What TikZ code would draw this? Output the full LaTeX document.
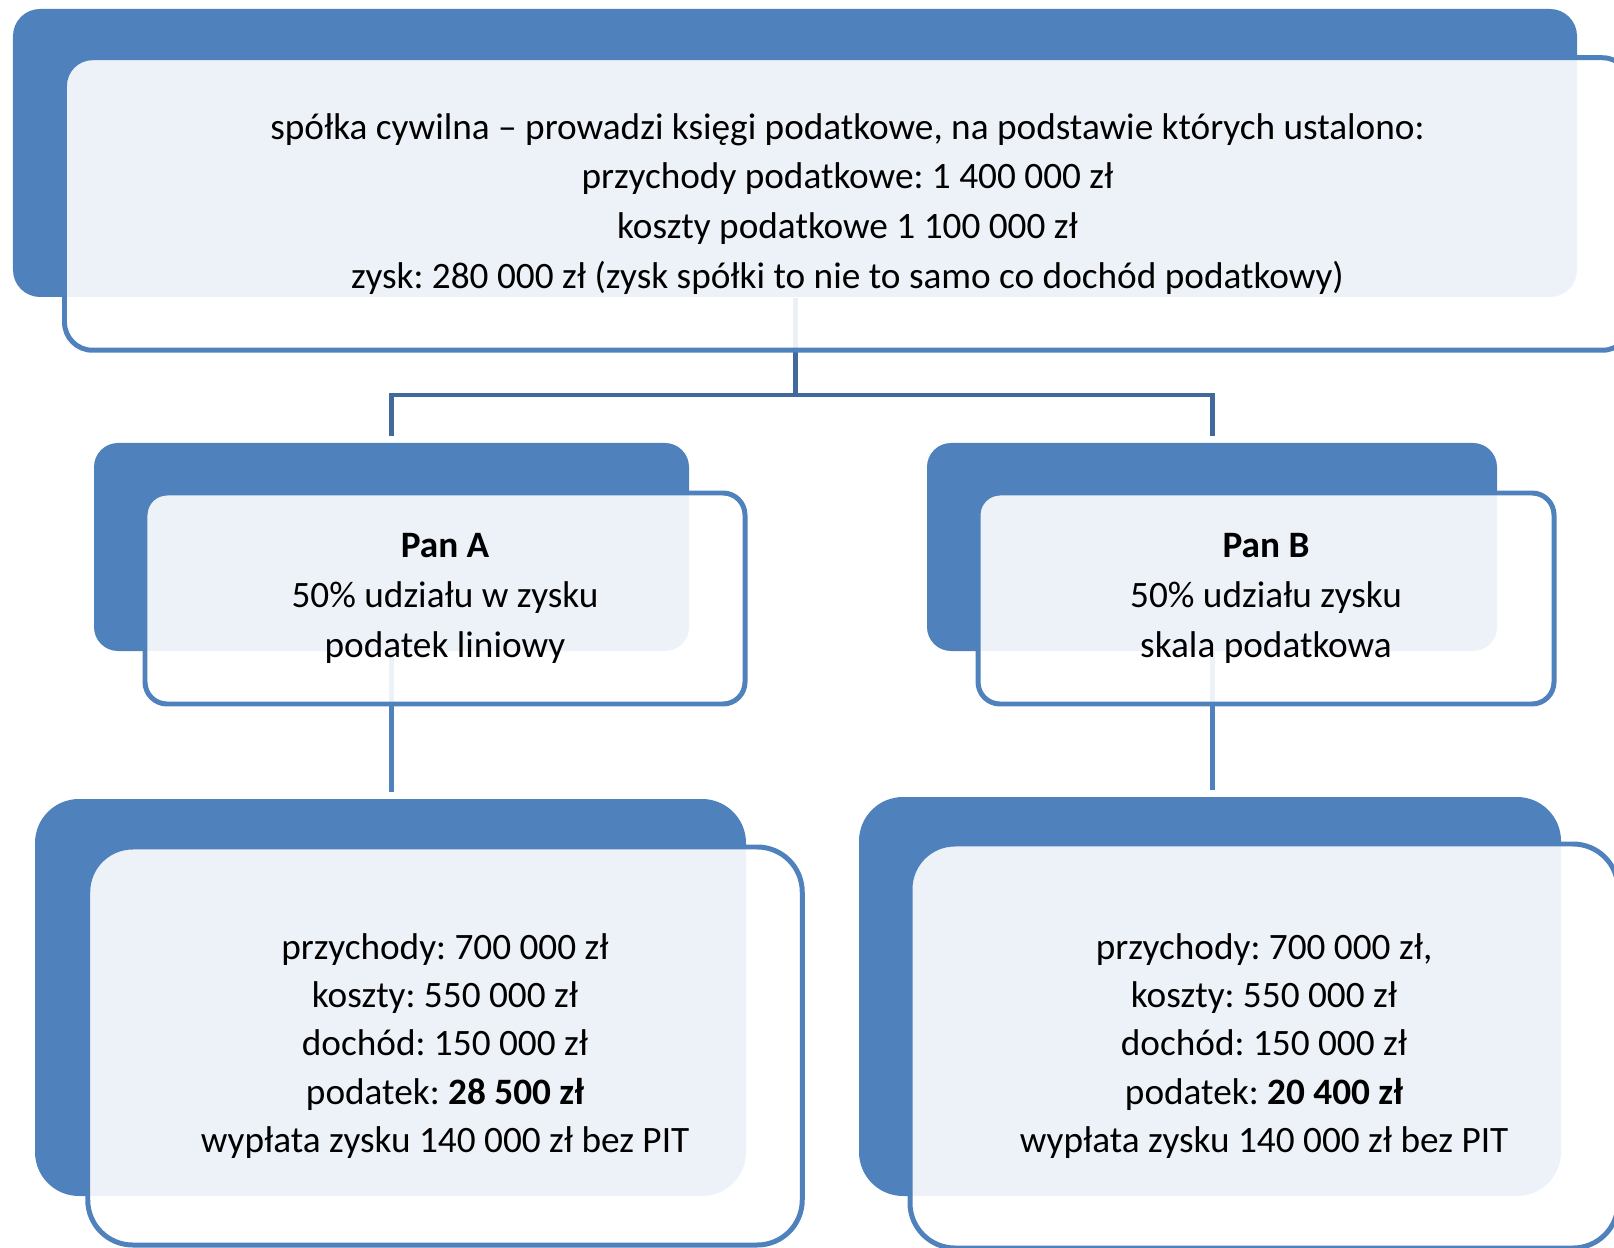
\documentclass[tikz,border=0pt]{standalone}
\usepackage{fontspec}
\setmainfont{Carlito}
\usepackage{xcolor}
\definecolor{boxblue}{HTML}{4F81BD}
\definecolor{linkblue}{HTML}{41699C}
\frenchspacing

\begin{document}
\begin{tikzpicture}[x=1cm, y=-1cm,
	back_box/.style={rectangle,rounded corners=#1,fill=boxblue,inner sep=0pt},
	back_box/.default=0.25cm,
	front_box/.style={rectangle,rounded corners=#1,draw=boxblue,line width=1.42pt,fill=white,fill opacity=0.9,text opacity=1,inner sep=0pt,align=center,font=\fontsize{10.6}{14.2}\selectfont},
	front_box/.default=0.25cm,
	link_line/.style={line width=1.42pt,draw=boxblue}]
				
				\useasboundingbox (0,0) rectangle (16.14,12.48);
				
				\node[back_box=0.27cm, minimum width=15.64cm, minimum height=2.88cm] (top_back) at (7.95,1.53) {};
				\node[back_box=0.24cm, minimum width=5.95cm, minimum height=2.08cm] (a_back) at (3.915,5.47) {};
				\node[back_box=0.24cm, minimum width=5.70cm, minimum height=2.08cm] (b_back) at (12.12,5.47) {};
				\node[back_box=0.44cm, minimum width=7.11cm, minimum height=3.97cm] (a_sum_back) at (3.905,9.975) {};
				\node[back_box=0.44cm, minimum width=7.02cm, minimum height=3.99cm] (b_sum_back) at (12.10,9.965) {};
				
				\coordinate (fork) at (7.95,3.95);
				\draw[link_line, draw=linkblue] (top_back.south) -- (fork);
				\draw[link_line, draw=linkblue, shorten <=0.06cm, shorten >=0.06cm] (a_back.north) |- (fork) -| (b_back.north);
				\draw[link_line, shorten >=0.06cm] (a_back.south) -- (a_back.south |- a_sum_back.north);
				\draw[link_line, shorten >=0.06cm] (b_back.south) -- (b_back.south |- b_sum_back.north);
				
				\node[front_box=0.28cm, minimum width=15.66cm, minimum height=2.925cm] (top) at (8.475,2.04)
				{spółka cywilna – prowadzi księgi podatkowe, na podstawie których ustalono:\\przychody podatkowe: 1 400 000 zł\\koszty podatkowe 1 100 000 zł\\zysk: 280 000 zł (zysk spółki to nie to samo co dochód podatkowy)};
				\node[front_box=0.22cm, minimum width=6.0cm, minimum height=2.11cm] (a) at (4.45,5.985)
				{\textbf{Pan A}\\50\% udziału w zysku\\podatek liniowy};
				\node[front_box=0.22cm, minimum width=5.76cm, minimum height=2.11cm] (b) at (12.66,5.985)
				{\textbf{Pan B}\\50\% udziału zysku\\skala podatkowa};
				\node[front_box=0.45cm, minimum width=7.145cm, minimum height=3.98cm, font=\fontsize{10.6}{13.7}\selectfont] (a_sum) at (4.45,10.46)
				{przychody: 700 000 zł\\koszty: 550 000 zł\\dochód: 150 000 zł\\podatek: \textbf{28 500 zł}\\wypłata zysku 140 000 zł bez PIT};
				\node[front_box=0.45cm, minimum width=7.08cm, minimum height=4.04cm, font=\fontsize{10.6}{13.7}\selectfont] (b_sum) at (12.64,10.46)
				{przychody: 700 000 zł,\\koszty: 550 000 zł\\dochód: 150 000 zł\\podatek: \textbf{20 400 zł}\\wypłata zysku 140 000 zł bez PIT};
			\end{tikzpicture}
\end{document}
